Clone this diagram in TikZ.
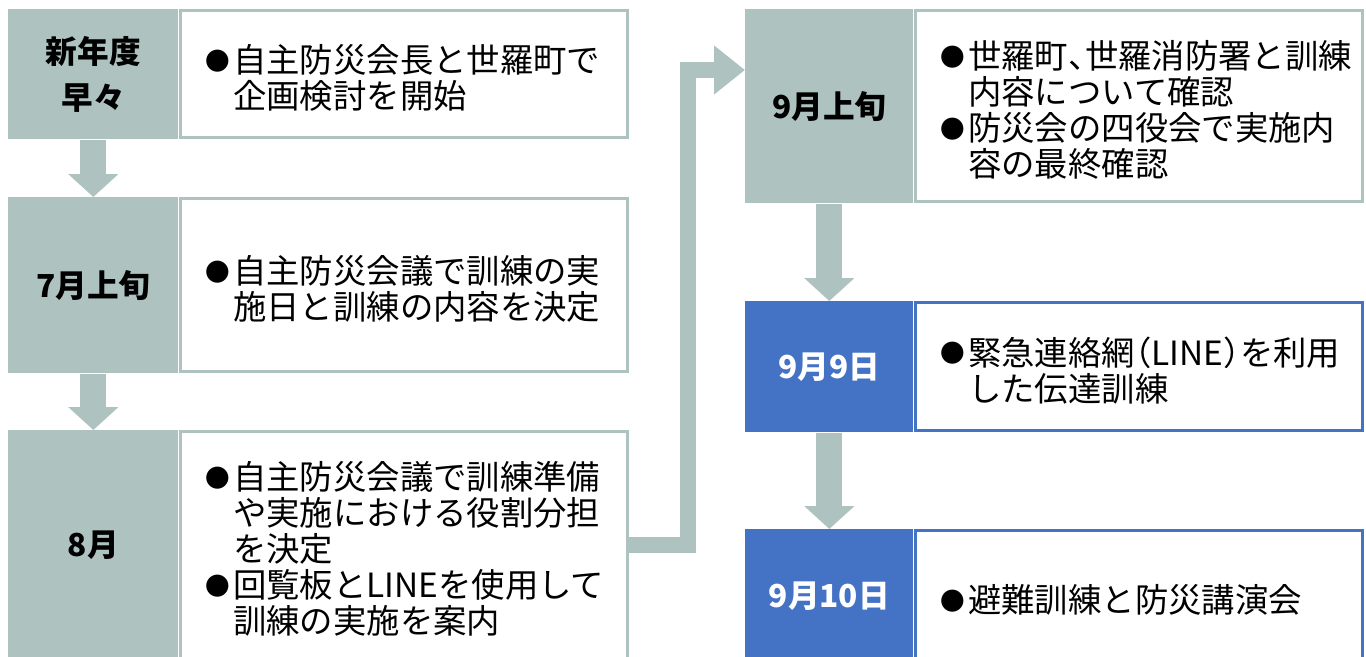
\documentclass[tikz,border=0pt]{standalone}
\usepackage{fontspec}
\setmainfont{Noto Sans CJK JP}
\usetikzlibrary{arrows.meta}
\definecolor{sage}{RGB}{174,195,192}
\definecolor{steel}{RGB}{68,114,196}
\newcommand\bodyfont{\fontsize{19}{20.5}\selectfont}
\newcommand\lblfont{\fontsize{18}{26.5}\selectfont\bfseries}
\newcommand\itm[1]{\par\noindent\hangindent=0.56cm\hangafter=1\makebox[0.56cm][l]{\raisebox{1.6pt}{\fontsize{14}{14}\selectfont●}}#1\par}
\newcommand\hw[1]{{\addfontfeature{CharacterWidth=AlternateHalf}#1}}

\begin{document}
\begin{tikzpicture}[x=0.02cm, y=-0.02cm,
    lbl/.style={fill=sage, anchor=north west, minimum width=3.36cm, inner sep=0pt, align=center, font=\lblfont},
    lblblue/.style={lbl, fill=steel, text=white},
    txt/.style={draw=sage, fill=white, line width=0.06cm, anchor=west, minimum width=8.94cm, text width=7.94cm, inner xsep=0.5cm, inner ysep=0pt, align=left, font=\bodyfont},
    txtblue/.style={txt, draw=steel},
    flow/.style={draw=sage, line width=0.52cm, -{Triangle[width=0.98cm, length=0.46cm]}},
    flowthin/.style={draw=sage, line width=0.32cm, -{Triangle[width=0.94cm, length=0.62cm]}}]
  \useasboundingbox (0,0) rectangle (1366,656);
  \clip (0,0) rectangle (1366,656);

  % left column
  \node[lbl, minimum width=3.4cm, minimum height=2.6cm] (nendo) at (8,9) {新年度\\早々};
  \node[txt, minimum height=2.54cm] (nendoTxt) at (nendo.east) {\itm{自主防災会長と世羅町で\newline 企画検討を開始}};

  \node[lbl, minimum width=3.4cm, minimum height=3.52cm] (jul) at (8,197) {7月上旬};
  \node[txt, minimum height=3.46cm] (julTxt) at (jul.east) {\itm{自主防災会議で訓練の実\newline 施日と訓練の内容を決定}};

  \node[lbl, minimum width=3.4cm, minimum height=4.6cm] (aug) at (8,430) {8月};
  \node[txt, minimum height=4.54cm] (augTxt) at (aug.east) {\itm{自主防災会議で訓練準備\newline や実施における役割分担\newline を決定}\itm{回覧板とLINEを使用して\newline 訓練の実施を案内}};

  % right column
  \node[lbl, minimum height=3.88cm] (sepA) at (745,9) {9月上旬};
  \node[txt, minimum height=3.82cm] (sepATxt) at (sepA.east) {\itm{世羅町\hw{、}世羅消防署と訓練\newline 内容について確認}\itm{防災会の四役会で実施内\newline 容の最終確認}};

  \node[lblblue, minimum height=2.62cm] (sep9) at (745,301) {9月9日};
  \node[txtblue, minimum height=2.56cm] (sep9Txt) at (sep9.east) {\itm{緊急連絡網\hw{（}LINE\hw{）}を利用\newline した伝達訓練}};

  \node[lblblue, minimum height=2.68cm] (sep10) at (745,529) {9月10日};
  \node[txtblue, minimum height=2.62cm] (sep10Txt) at (sep10.east) {\itm{避難訓練と防災講演会}};

  % arrows
  \draw[flow] (nendo.south) -- (jul.north);
  \draw[flow] (jul.south) -- (aug.north);
  \draw[flow] (sepA.south) -- (sep9.north);
  \draw[flow] (sep9.south) -- (sep10.north);
  \coordinate (turn) at (688,70);
  \draw[flowthin] (augTxt.east) -| (turn) -- (turn -| sepA.west);
\end{tikzpicture}
\end{document}
